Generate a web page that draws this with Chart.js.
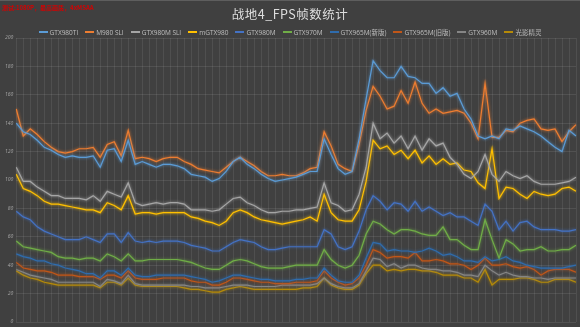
<!DOCTYPE html>
<html lang="zh">
  <head>
    <meta charset="UTF-8" />
    <title>战地4_FPS帧数统计</title>
    <script src="https://cdn.jsdelivr.net/npm/chart.js"></script>
    <style>
      html, body {
        margin: 0;
        padding: 0;
        background: #404040;
      }
      .wrap {
        position: relative;
        width: 580px;
        height: 327px;
        background: #404040;
        border-top: 1px solid #5e5e5e;
        box-sizing: border-box;
        overflow: hidden;
        font-family: "Noto Sans CJK SC", "Noto Sans", sans-serif;
      }
      canvas {
        position: absolute;
        left: 0;
        top: 0;
      }
      .note {
        position: absolute;
        left: 2px;
        top: 2px;
        font-size: 6px;
        font-weight: bold;
        color: #d40000;
        white-space: nowrap;
      }
      .title {
        position: absolute;
        left: 0;
        width: 580px;
        top: 3px;
        text-align: center;
        font-size: 12.5px;
        color: #dedede;
        letter-spacing: 0.5px;
      }
      .legend {
        position: absolute;
        left: 0;
        width: 580px;
        top: 26px;
        display: flex;
        justify-content: center;
        gap: 7px;
        font-family: "Open Sans", "Noto Sans CJK SC", sans-serif;
        font-size: 6.5px;
        color: #bfbfbf;
      }
      .legend span {
        display: flex;
        align-items: center;
        white-space: nowrap;
      }
      .legend i {
        display: inline-block;
        width: 9px;
        height: 1.5px;
        margin-right: 2px;
      }
    </style>
  </head>
  <body>
    <div class="wrap">
      <canvas id="fpsChart" width="580" height="327"></canvas>
      <div class="note">测试:1080P，最高画质，4xMSAA</div>
      <div class="title">战地4_FPS帧数统计</div>
      <div class="legend" id="legend"></div>
    </div>

    <script>
      // FPS samples over the benchmark run, one value per sample
      const gtx980ti = [140,134,132,128,123,121,118,116,117,116,116,117,109,121,122,113,128,111,113,111,109,111,111,110,108,104,103,102,99,101,106,113,116,111,108,104,101,99,100,101,102,104,106,106,129,118,108,104,106,129,157,184,177,172,172,180,173,172,168,168,161,165,159,161,150,143,131,129,131,129,136,135,138,136,134,131,127,123,120,135,131];
      const m980sli = [150,131,136,132,127,123,120,119,120,122,122,123,116,125,127,117,135,115,116,115,113,115,116,116,113,111,108,107,106,105,109,113,116,113,110,106,103,103,104,103,103,105,108,109,134,124,111,108,106,125,149,166,159,150,152,163,154,169,154,147,150,147,148,149,147,140,129,168,130,130,135,134,140,142,143,136,135,136,127,134,139];
      const gtx980mSli = [109,99,99,95,92,89,89,87,87,87,86,89,85,92,90,88,98,84,82,83,84,83,84,84,83,79,79,79,78,79,83,87,88,84,82,79,77,77,78,78,79,79,80,81,98,84,82,78,79,90,109,140,129,133,126,131,122,131,121,129,124,126,116,111,104,101,106,118,104,99,106,103,101,103,99,97,97,97,98,99,102];
      const mGtx980 = [104,94,92,89,85,83,83,82,81,80,79,79,77,84,82,79,89,76,77,77,76,77,77,77,77,74,73,71,70,68,71,77,79,77,74,72,71,70,69,70,71,72,74,71,90,77,72,71,71,79,99,128,122,124,118,121,115,121,112,117,111,115,111,112,107,106,98,94,122,87,95,94,90,87,92,90,89,90,94,95,92];
      const gtx980m = [78,74,72,67,64,62,60,58,58,58,60,58,56,62,62,56,63,57,56,57,56,57,57,57,56,54,53,52,50,50,53,56,58,57,56,53,51,51,52,53,53,53,53,53,65,62,53,51,53,64,79,89,85,79,84,83,78,85,78,81,78,75,77,74,74,71,68,83,78,65,71,64,70,71,67,65,65,65,64,64,65];
      const gtx970m = [57,53,52,51,50,49,46,45,45,44,45,45,43,48,46,43,48,43,43,44,44,44,44,44,43,42,40,38,37,37,40,43,44,43,41,39,38,38,38,39,40,40,40,40,51,44,40,38,40,47,62,71,69,65,62,65,65,64,62,61,61,67,58,58,54,51,51,72,58,45,58,55,50,51,51,53,50,50,51,51,54];
      const gtx965mNew = [48,46,45,43,43,41,40,38,37,36,34,34,31,36,36,33,38,33,32,32,33,33,33,33,33,32,31,30,28,29,31,33,33,32,31,30,30,29,29,29,30,30,31,31,38,33,29,28,28,33,45,56,55,50,51,50,50,49,50,52,50,47,48,46,43,43,42,46,43,44,46,43,42,40,39,38,38,38,38,39,40];
      const gtx965mOld = [42,38,37,36,36,35,33,33,33,32,32,32,30,33,33,31,36,31,30,30,30,31,31,31,31,29,28,28,26,26,28,31,31,30,29,28,28,27,27,27,28,28,28,29,36,31,28,26,27,31,40,51,49,45,46,46,45,49,43,43,44,43,41,41,40,37,40,45,40,40,41,39,38,39,37,33,36,37,37,37,35];
      const gtx960m = [37,35,33,32,31,30,28,28,28,28,28,28,25,30,29,27,33,27,26,26,26,26,26,26,26,25,25,24,24,24,25,26,26,26,25,25,25,25,26,26,26,26,26,27,31,27,25,24,24,27,36,45,44,39,41,38,40,40,38,37,37,36,36,35,33,33,32,40,36,33,35,33,32,32,31,31,30,31,31,31,31];
      const omen = [36,33,31,30,28,27,26,26,26,26,26,26,24,28,28,26,31,26,25,25,25,25,25,25,24,23,23,22,21,21,23,24,25,24,23,23,23,23,23,23,23,24,24,25,31,26,24,23,23,26,34,40,40,36,37,36,37,37,36,36,35,33,33,33,31,31,28,37,26,30,30,30,31,31,30,28,28,30,30,30,28];

      const seriesNames = ["GTX980TI", "M980 SLI", "GTX980M SLI", "mGTX980", "GTX980M", "GTX970M", "GTX965M(新版)", "GTX965M(旧版)", "GTX960M", "光影精灵"];
      const seriesData = [gtx980ti, m980sli, gtx980mSli, mGtx980, gtx980m, gtx970m, gtx965mNew, gtx965mOld, gtx960m, omen];
      const seriesColors = ["#5b9bd5", "#ed7d31", "#a5a5a5", "#ffc000", "#4472c4", "#70ad47", "#2f6cad", "#c05618", "#858585", "#b58a08"];

      const yMin = 0;
      const yMax = 200;
      const yStep = 20;

      // sample index along the run
      const samples = gtx980ti.map((_, i) => i + 1);

      // soft glow around each line, like the office chart effect
      const glow = {
        id: "glow",
        beforeDatasetDraw(chart, args) {
          const ctx = chart.ctx;
          ctx.save();
          ctx.shadowColor = chart.data.datasets[args.index].borderColor;
          ctx.shadowBlur = 3;
        },
        afterDatasetDraw(chart) {
          chart.ctx.restore();
        },
      };

      const datasets = seriesNames.map((name, i) => ({
        label: name,
        data: seriesData[i],
        borderColor: seriesColors[i],
        backgroundColor: seriesColors[i],
        borderWidth: 1.2,
        pointRadius: 0,
        tension: 0,
        fill: false,
      }));

      // html legend
      const legend = document.getElementById("legend");
      seriesNames.forEach((name, i) => {
        const item = document.createElement("span");
        item.innerHTML = '<i style="background:' + seriesColors[i] + '"></i>' + name;
        legend.appendChild(item);
      });

      new Chart(document.getElementById("fpsChart"), {
        type: "line",
        data: { labels: samples, datasets: datasets },
        plugins: [glow],
        options: {
          responsive: false,
          animation: false,
          layout: { padding: { top: 37, right: 4, bottom: 4, left: 2 } },
          plugins: {
            legend: { display: false },
            title: { display: false },
            tooltip: { enabled: false },
          },
          scales: {
            x: {
              offset: false,
              border: { display: false },
              grid: { color: "rgba(255,255,255,0.08)", drawTicks: false },
              ticks: { display: false },
            },
            y: {
              min: yMin,
              max: yMax,
              border: { display: false },
              grid: { color: "rgba(255,255,255,0.09)", drawTicks: false },
              ticks: {
                stepSize: yStep,
                padding: 3,
                color: "#a6a6a6",
                font: { size: 5, style: "italic", family: "Open Sans" },
              },
            },
          },
        },
      });
    </script>
  </body>
</html>
